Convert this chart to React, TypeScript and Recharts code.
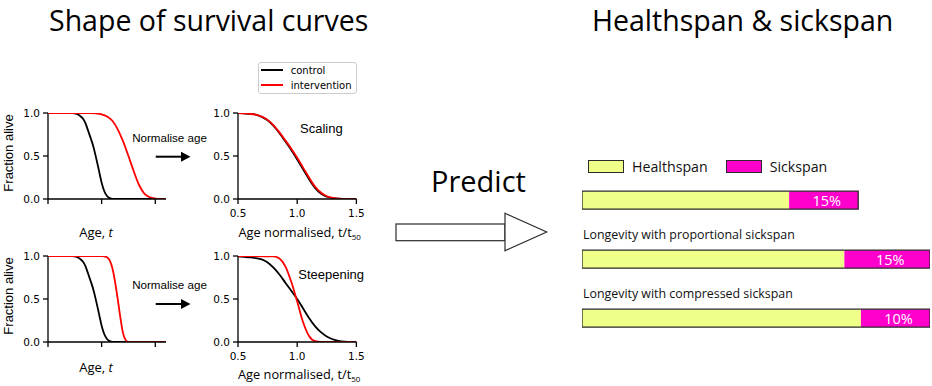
import React from 'react'
import {
  LineChart,
  Line,
  XAxis,
  YAxis,
  Legend,
  BarChart,
  Bar,
  LabelList,
} from 'recharts'

// survival curves (age in arbitrary units)
const AGE_CONTROL = [0, 0.45, 0.5, 0.55, 0.6, 0.65, 0.7, 0.75, 0.8, 0.85, 0.9, 0.95, 1.0, 1.05, 1.1, 1.15, 1.2, 2.2]
const ALIVE_CONTROL = [1, 1, 0.995, 0.985, 0.965, 0.935, 0.88, 0.79, 0.7, 0.6, 0.47, 0.33, 0.19, 0.09, 0.035, 0.01, 0, 0]

const AGE_SCALED = [0, 0.8, 0.9, 1.0, 1.1, 1.2, 1.3, 1.4, 1.5, 1.6, 1.7, 1.8, 1.9, 2.0, 2.1, 2.2]
const ALIVE_SCALED = [1, 1, 0.995, 0.985, 0.96, 0.91, 0.81, 0.67, 0.5, 0.32, 0.16, 0.06, 0.02, 0.005, 0, 0]

const AGE_STEEP = [0, 1.0, 1.05, 1.1, 1.15, 1.2, 1.25, 1.3, 1.35, 1.4, 1.45, 1.5, 2.2]
const ALIVE_STEEP = [1, 1, 0.995, 0.985, 0.95, 0.86, 0.7, 0.5, 0.28, 0.1, 0.02, 0, 0]

// same curves against normalised age t/t50
const NORM_AGE = [0.5, 0.55, 0.6, 0.65, 0.7, 0.75, 0.8, 0.85, 0.9, 0.95, 1.0, 1.05, 1.1, 1.15, 1.2, 1.25, 1.3, 1.35, 1.4, 1.45, 1.5]
const NORM_SCALING_CONTROL = [1, 0.995, 0.99, 0.98, 0.955, 0.915, 0.85, 0.765, 0.67, 0.57, 0.46, 0.345, 0.23, 0.13, 0.065, 0.028, 0.01, 0.003, 0, 0, 0]
const NORM_SCALING_INTERVENTION = [1, 0.996, 0.99, 0.98, 0.957, 0.92, 0.857, 0.775, 0.682, 0.585, 0.48, 0.365, 0.25, 0.145, 0.075, 0.032, 0.012, 0.004, 0, 0, 0]
const NORM_STEEP_CONTROL = [0.995, 0.99, 0.985, 0.975, 0.96, 0.925, 0.865, 0.785, 0.69, 0.595, 0.5, 0.39, 0.28, 0.185, 0.115, 0.065, 0.032, 0.013, 0.004, 0, 0]
const NORM_AGE_STEEP_INT = [0.5, 0.8, 0.85, 0.9, 0.95, 1.0, 1.05, 1.1, 1.15, 1.2, 1.5]
const NORM_STEEP_INTERVENTION = [1, 0.995, 0.97, 0.88, 0.7, 0.47, 0.23, 0.07, 0.01, 0, 0]

const ALIVE_TICKS = [0, 0.5, 1]
const AGE_TICKS = [0, 1, 2]
const NORM_TICKS = [0.5, 1, 1.5]

// healthspan / sickspan bars (lifespan of first bar = 1)
const ROW_KEYS = ['baseline', 'proportional', 'compressed']
const ROW_TITLES = ['', 'Longevity with proportional sickspan', 'Longevity with compressed sickspan']
const HEALTHSPAN = [0.75, 0.95, 1.01]
const SICKSPAN = [0.25, 0.31, 0.25]
const SICK_LABELS = ['15%', '15%', '10%']

const SPAN_DATA = ROW_KEYS.map((row, i) => ({
  row,
  title: ROW_TITLES[i],
  health: HEALTHSPAN[i],
  sick: SICKSPAN[i],
  pct: SICK_LABELS[i],
}))

const MYRIAD = '"Open Sans", sans-serif'
const ARIAL = '"Liberation Sans", Arial, sans-serif'
const MPL = '"DejaVu Sans", sans-serif'

const RED = '#ff0000'
const YELLOW = '#efff88'
const MAGENTA = '#ff00cc'
const EDGE = '#2b2b2b'

const toPoints = (xs: number[], ys: number[]) => xs.map((t, i) => ({ t, v: ys[i] }))

type Series = { name: string; color: string; xs: number[]; ys: number[] }

type PanelProps = {
  x0: number
  y0: number
  plotW: number
  plotH: number
  domain: [number, number]
  ticks: number[]
  tickValues: boolean
  series: Series[]
  kind: 'age' | 'norm'
  titleDx: number
  titleBaseline: number
  yTitle?: boolean
  marginTop?: number
  legendAt?: { left: number; top: number }
}

const lineLegend = (props: any) => (
  <div
    style={{
      width: 99,
      height: 32,
      boxSizing: 'border-box',
      border: '1px solid #cccccc',
      borderRadius: 3,
      background: '#fff',
      fontFamily: MPL,
      fontSize: 10,
      color: '#000',
    }}
  >
    {(props.payload ?? []).map((e: any) => (
      <div key={e.value} style={{ display: 'flex', alignItems: 'center', height: 15, paddingLeft: 2 }}>
        <span style={{ width: 22, height: 2, background: e.color, display: 'inline-block' }} />
        <span style={{ marginLeft: 8, lineHeight: '15px' }}>{e.value}</span>
      </div>
    ))}
  </div>
)

function SurvivalPanel(p: PanelProps) {
  const mt = p.marginTop ?? 10
  const axisW = 48
  const xAxisH = 44
  const width = axisW + p.plotW + 12
  const height = mt + p.plotH + xAxisH
  const cx = axisW + p.plotW / 2 + p.titleDx
  const by = mt + p.plotH + p.titleBaseline
  const axisStyle = { stroke: '#000', strokeWidth: 1.3 }

  return (
    <div style={{ position: 'absolute', left: p.x0 - axisW, top: p.y0 - mt }}>
      <LineChart width={width} height={height} margin={{ top: mt, right: 12, bottom: 0, left: 0 }}>
        <XAxis
          type="number"
          dataKey="t"
          domain={p.domain}
          ticks={p.ticks}
          allowDataOverflow
          height={xAxisH}
          axisLine={axisStyle}
          tickLine={axisStyle}
          tickSize={5}
          tickMargin={6}
          tick={{ fill: '#000', fontSize: 10.5, fontFamily: MPL }}
          tickFormatter={(v: number) => (p.tickValues ? v.toFixed(1) : '')}
          label={{
            content: () =>
              p.kind === 'age' ? (
                <text x={cx} y={by} textAnchor="middle" fontFamily={MYRIAD} fontSize={13} fill="#000">
                  Age, <tspan fontStyle="italic">t</tspan>
                </text>
              ) : (
                <text x={cx} y={by} textAnchor="middle" fontFamily={MYRIAD} fontSize={12.8} fill="#000">
                  Age normalised, t/t
                  <tspan fontSize={8} dy={3}>
                    50
                  </tspan>
                </text>
              ),
          }}
        />
        <YAxis
          type="number"
          domain={[0, 1]}
          ticks={ALIVE_TICKS}
          allowDataOverflow
          width={axisW}
          axisLine={axisStyle}
          tickLine={axisStyle}
          tickSize={5}
          tickMargin={3}
          tick={{ fill: '#000', fontSize: 10.5, fontFamily: MPL }}
          tickFormatter={(v: number) => v.toFixed(1)}
          label={
            p.yTitle
              ? {
                  content: () => {
                    const x = 13.3
                    const y = mt + p.plotH / 2 - 3
                    return (
                      <text
                        x={x}
                        y={y}
                        transform={`rotate(-90 ${x} ${y})`}
                        textAnchor="middle"
                        fontFamily={ARIAL}
                        fontSize={13}
                        fill="#000"
                      >
                        Fraction alive
                      </text>
                    )
                  },
                }
              : undefined
          }
        />
        {p.series.map((s) => (
          <Line
            key={s.name}
            name={s.name}
            data={toPoints(s.xs, s.ys)}
            dataKey="v"
            type="monotone"
            stroke={s.color}
            strokeWidth={1.8}
            dot={false}
            isAnimationActive={false}
          />
        ))}
        {p.legendAt && (
          <Legend
            layout="vertical"
            align="center"
            verticalAlign="middle"
            content={lineLegend}
            wrapperStyle={{ left: p.legendAt.left, top: p.legendAt.top, width: 100, height: 33 }}
          />
        )}
      </LineChart>
    </div>
  )
}

const HealthShape = (props: any) => {
  const { x, y, width, height, fill } = props
  return (
    <g>
      <rect x={x} y={y} width={width} height={height} fill={fill} />
      <path d={`M${x + width},${y}H${x}V${y + height}H${x + width}`} fill="none" stroke={EDGE} strokeWidth={1.3} />
    </g>
  )
}

const SickShape = (props: any) => {
  const { x, y, width, height, fill } = props
  return (
    <g>
      <rect x={x} y={y} width={width} height={height} fill={fill} />
      <path d={`M${x},${y}H${x + width}V${y + height}H${x}`} fill="none" stroke={EDGE} strokeWidth={1.3} />
    </g>
  )
}

const RowTitle = (props: any) => {
  const { x, y, value } = props
  if (!value) return null
  return (
    <text x={x + 1} y={y - 11.5} fontFamily={MYRIAD} fontSize={12.4} fill="#111">
      {value}
    </text>
  )
}

const PctLabel = (props: any) => {
  const { x, y, width, height, value } = props
  return (
    <text
      x={x + width / 2 + 3}
      y={y + height / 2}
      textAnchor="middle"
      dominantBaseline="central"
      fontFamily={MYRIAD}
      fontSize={14.5}
      fill="#fff"
    >
      {value}
    </text>
  )
}

const spanLegend = (props: any) => (
  <div style={{ display: 'flex', alignItems: 'center', fontFamily: MYRIAD, fontSize: 14.2, color: '#111' }}>
    {(props.payload ?? []).map((e: any, i: number) => (
      <div key={e.value} style={{ display: 'flex', alignItems: 'center', width: i === 0 ? 137.7 : 110 }}>
        <span
          style={{
            width: 35.7,
            height: 13.4,
            background: e.color,
            border: `1px solid ${EDGE}`,
            boxSizing: 'border-box',
            display: 'inline-block',
          }}
        />
        <span style={{ marginLeft: 8 }}>{e.value}</span>
      </div>
    ))}
  </div>
)

export default function App() {
  return (
    <div style={{ position: 'relative', width: 932, height: 386, background: '#fff', overflow: 'hidden' }}>
      <style>{'body{margin:0}'}</style>

      <SurvivalPanel
        x0={48}
        y0={112.5}
        plotW={118}
        plotH={86}
        domain={[0, 2.2]}
        ticks={AGE_TICKS}
        tickValues={false}
        kind="age"
        titleDx={-11}
        titleBaseline={38.2}
        yTitle
        series={[
          { name: 'control', color: '#000', xs: AGE_CONTROL, ys: ALIVE_CONTROL },
          { name: 'intervention', color: RED, xs: AGE_SCALED, ys: ALIVE_SCALED },
        ]}
      />
      <SurvivalPanel
        x0={238.3}
        y0={112.5}
        plotW={118.4}
        plotH={86}
        domain={[0.5, 1.5]}
        ticks={NORM_TICKS}
        tickValues
        kind="norm"
        titleDx={2.5}
        titleBaseline={38.2}
        marginTop={60}
        legendAt={{ left: 67.4, top: 9.2 }}
        series={[
          { name: 'control', color: '#000', xs: NORM_AGE, ys: NORM_SCALING_CONTROL },
          { name: 'intervention', color: RED, xs: NORM_AGE, ys: NORM_SCALING_INTERVENTION },
        ]}
      />
      <SurvivalPanel
        x0={48}
        y0={255.7}
        plotW={118}
        plotH={86}
        domain={[0, 2.2]}
        ticks={AGE_TICKS}
        tickValues={false}
        kind="age"
        titleDx={-11}
        titleBaseline={29.5}
        yTitle
        series={[
          { name: 'control', color: '#000', xs: AGE_CONTROL, ys: ALIVE_CONTROL },
          { name: 'intervention', color: RED, xs: AGE_STEEP, ys: ALIVE_STEEP },
        ]}
      />
      <SurvivalPanel
        x0={238.3}
        y0={255.7}
        plotW={118.4}
        plotH={86}
        domain={[0.5, 1.5]}
        ticks={NORM_TICKS}
        tickValues
        kind="norm"
        titleDx={2}
        titleBaseline={36.6}
        series={[
          { name: 'control', color: '#000', xs: NORM_AGE, ys: NORM_STEEP_CONTROL },
          { name: 'intervention', color: RED, xs: NORM_AGE_STEEP_INT, ys: NORM_STEEP_INTERVENTION },
        ]}
      />

      <div style={{ position: 'absolute', left: 560, top: 140 }}>
        <BarChart
          width={372}
          height={230}
          data={SPAN_DATA}
          layout="vertical"
          margin={{ top: 30.2, right: 2, bottom: 22.8, left: 22 }}
          barSize={18}
        >
          <XAxis type="number" domain={[0, 1.26]} allowDataOverflow hide />
          <YAxis type="category" dataKey="row" hide />
          <Legend
            layout="vertical"
            align="center"
            verticalAlign="middle"
            content={spanLegend}
            wrapperStyle={{ left: 28.3, top: 17.3, width: 260, height: 14 }}
          />
          <Bar dataKey="health" name="Healthspan" stackId="span" fill={YELLOW} shape={HealthShape} isAnimationActive={false}>
            <LabelList dataKey="title" content={RowTitle} />
          </Bar>
          <Bar dataKey="sick" name="Sickspan" stackId="span" fill={MAGENTA} shape={SickShape} isAnimationActive={false}>
            <LabelList dataKey="pct" content={PctLabel} />
          </Bar>
        </BarChart>
      </div>

      <svg width={932} height={386} style={{ position: 'absolute', left: 0, top: 0, pointerEvents: 'none' }}>
        <text x={49} y={31} fontFamily={MYRIAD} fontSize={28.5} fill="#000">
          Shape of survival curves
        </text>
        <text x={592} y={31} fontFamily={MYRIAD} fontSize={28.5} fill="#000">
          Healthspan &amp; sickspan
        </text>
        <text x={431} y={191.7} fontFamily={MYRIAD} fontSize={29} fill="#000">
          Predict
        </text>

        <rect x={396} y={224} width={109} height={16.7} fill="#fff" stroke={EDGE} strokeWidth={1.2} />
        <polygon points="505,213.3 546.7,232 505,250.7" fill="#fff" stroke={EDGE} strokeWidth={1.2} />

        <text x={169.5} y={141.7} textAnchor="middle" fontFamily={ARIAL} fontSize={11.6} fill="#000">
          Normalise age
        </text>
        <line x1={155.7} y1={156.7} x2={183} y2={156.7} stroke="#000" strokeWidth={2} />
        <polygon points="181,151.7 190.5,156.7 181,161.7" fill="#000" />

        <text x={169.5} y={289.3} textAnchor="middle" fontFamily={ARIAL} fontSize={11.6} fill="#000">
          Normalise age
        </text>
        <line x1={155.7} y1={304} x2={183} y2={304} stroke="#000" strokeWidth={2} />
        <polygon points="181,299 190.5,304 181,309" fill="#000" />

        <text x={300} y={133.3} fontFamily={ARIAL} fontSize={13} fill="#000">
          Scaling
        </text>
        <text x={298.3} y={279.3} fontFamily={ARIAL} fontSize={13} fill="#000">
          Steepening
        </text>
      </svg>
    </div>
  )
}
